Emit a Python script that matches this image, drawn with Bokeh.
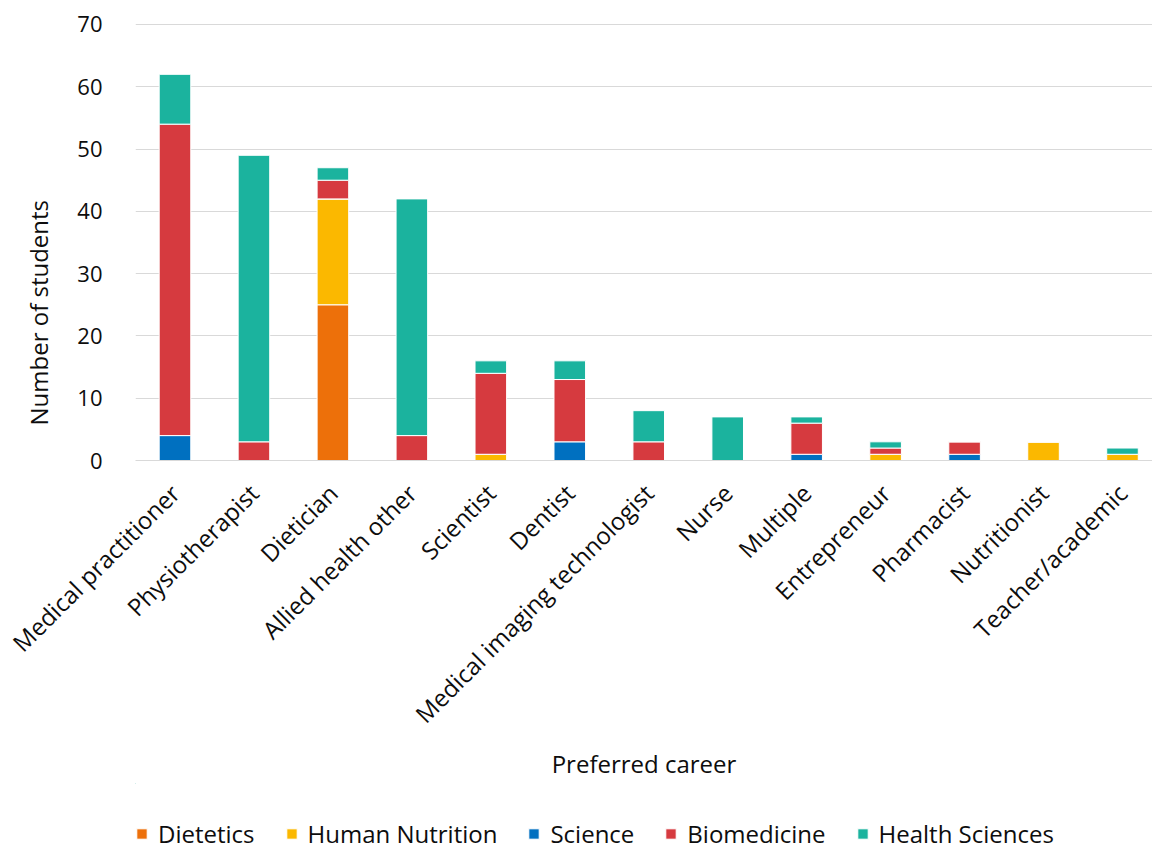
import math
from bokeh.plotting import figure
from bokeh.layouts import column
from bokeh.models import ColumnDataSource, Range1d, FixedTicker, Legend, LegendItem, Title
from bokeh.embed import file_html
from bokeh.resources import INLINE

careers = ["Medical practitioner", "Physiotherapist", "Dietician", "Allied health other",
           "Scientist", "Dentist", "Medical imaging technologist", "Nurse", "Multiple",
           "Entrepreneur", "Pharmacist", "Nutritionist", "Teacher/academic"]
dietetics       = [0, 0, 25, 0, 0, 0, 0, 0, 0, 0, 0, 0, 0]
human_nutrition = [0, 0, 17, 0, 1, 0, 0, 0, 0, 1, 0, 3, 1]
science         = [4, 0, 0, 0, 0, 3, 0, 0, 1, 0, 1, 0, 0]
biomedicine     = [50, 3, 3, 4, 13, 10, 3, 0, 5, 1, 2, 0, 0]
health_sciences = [8, 46, 2, 38, 2, 3, 5, 7, 1, 1, 0, 0, 1]
y_ticks = [0, 10, 20, 30, 40, 50, 60, 70]

series = ["Dietetics", "Human Nutrition", "Science", "Biomedicine", "Health Sciences"]
colors = ["#ED700A", "#FBB800", "#0070C0", "#D63A3F", "#1BB39E"]

xs = list(range(len(careers)))
source = ColumnDataSource(dict(
    x=xs,
    Dietetics=dietetics,
    **{"Human Nutrition": human_nutrition},
    Science=science,
    Biomedicine=biomedicine,
    **{"Health Sciences": health_sciences},
))

FONT = "Open Sans"
TXT = "#0d0d0d"

# ---- main chart -------------------------------------------------------------
p = figure(frame_width=1017, frame_height=440, output_backend="svg", toolbar_location=None,
           x_range=Range1d(-0.5, 12.38), y_range=Range1d(0, 70.64),
           min_border_left=135, min_border_right=0, min_border_top=20, min_border_bottom=0)

p.vbar_stack(series, x="x", width=0.4, source=source, color=colors,
             line_color="white", line_width=1)

p.outline_line_color = None
p.background_fill_color = "white"
p.border_fill_color = "white"

p.xgrid.grid_line_color = None
p.ygrid.grid_line_color = "#D9D9D9"
p.ygrid.grid_line_width = 1
p.ygrid.ticker = FixedTicker(ticks=y_ticks)

p.yaxis.ticker = FixedTicker(ticks=y_ticks)
p.yaxis.axis_line_color = None
p.yaxis.major_tick_line_color = None
p.yaxis.minor_tick_line_color = None
p.yaxis.major_label_text_font = FONT
p.yaxis.major_label_text_font_size = "22px"
p.yaxis.major_label_text_color = TXT
p.yaxis.major_label_standoff = 27

# y axis title, shifted down like the reference
ytitle = Title(text="Number of students", align="left", offset=35, standoff=39,
               text_font=FONT, text_font_size="24px", text_font_style="normal",
               text_color=TXT)
p.add_layout(ytitle, "left")

p.xaxis.ticker = FixedTicker(ticks=xs)
p.xaxis.major_label_overrides = {i: c for i, c in enumerate(careers)}
p.xaxis.major_label_orientation = math.pi / 4
p.xaxis.axis_line_color = "#D9D9D9"
p.xaxis.major_tick_line_color = None
p.xaxis.minor_tick_line_color = None
p.xaxis.major_label_text_font = FONT
p.xaxis.major_label_text_font_size = "24px"
p.xaxis.major_label_text_color = TXT
p.xaxis.major_label_standoff = 22
p.xaxis.axis_label = "Preferred career"
p.xaxis.axis_label_text_font = FONT
p.xaxis.axis_label_text_font_size = "24px"
p.xaxis.axis_label_text_font_style = "normal"
p.xaxis.axis_label_text_color = TXT
p.xaxis.axis_label_standoff = 3

# ---- legend strip (bottom) --------------------------------------------------
# legend renderers share the chart's data; the strip's data window lies far
# away from the bars, so only the legend itself is visible here
leg = figure(width=1152, height=67, output_backend="svg", toolbar_location=None,
             x_axis_type=None, y_axis_type=None, x_range=Range1d(100, 101),
             y_range=Range1d(-2, -1), min_border_left=135, min_border_right=0,
             min_border_top=0, min_border_bottom=0)
leg.outline_line_color = None
leg.grid.visible = False
leg_renderers = leg.vbar_stack(series, x="x", width=0.4, source=source, color=colors,
                               line_color="white", line_width=1)
legend = Legend(items=[LegendItem(label=s, renderers=[r]) for s, r in zip(series, leg_renderers)],
                orientation="horizontal", location=(0, 0),
                label_text_font=FONT, label_text_font_size="24px", label_text_color=TXT,
                glyph_width=13, glyph_height=13, spacing=30, label_standoff=10,
                border_line_color=None, background_fill_alpha=0, padding=0, margin=0)
leg.add_layout(legend, "center")

layout = column(p, leg)

open("out.html", "w").write(file_html(layout, INLINE))
